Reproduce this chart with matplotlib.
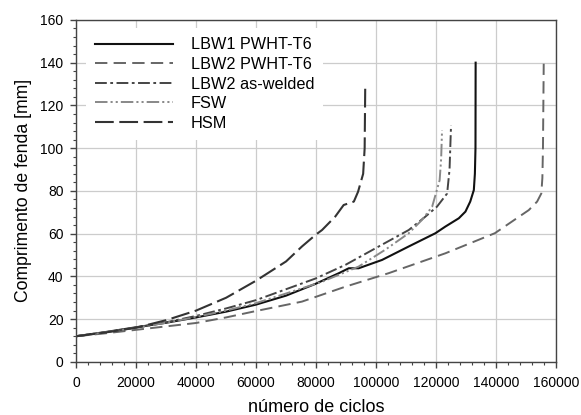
import matplotlib
matplotlib.use("Agg")
import matplotlib.pyplot as plt
from matplotlib.ticker import MultipleLocator

plt.rcParams['font.family'] = ['Liberation Sans', 'DejaVu Sans']
plt.rcParams['lines.scale_dashes'] = False

# ---- data ----
lbw1_x = [0, 10000, 20000, 30000, 40000, 50000, 60000, 70000, 79800, 87600,
          90900, 94200, 102000, 110900, 119800, 123100, 127600, 129800,
          131400, 132600, 132950, 133150, 133200]
lbw1_y = [12, 14, 16.2, 18.3, 20.8, 23.5, 26.8, 31, 36.5, 41.5,
          43.8, 43.8, 47.7, 54, 60.2, 63.3, 67.2, 70.3,
          75, 80.4, 88, 100, 140]

lbw2t6_x = [0, 10000, 20000, 30000, 40000, 50000, 60000, 75300, 89800, 104200,
            123100, 139600, 150900, 153700, 155100, 155450, 155650, 155900]
lbw2t6_y = [12, 13.4, 15.0, 16.6, 18.2, 20.8, 23.8, 28.2, 35.2, 41.5,
            50.8, 60.2, 71, 75, 78.8, 86, 100, 139.5]

lbw2aw_x = [0, 10000, 20000, 30000, 40000, 50000, 60000, 70000, 79800, 89800,
            100900, 110900, 116400, 120300, 123700, 124500, 125000]
lbw2aw_y = [12, 13.9, 16, 18.5, 21.5, 25, 28.9, 34, 39, 45.4,
            54, 61.7, 67.9, 72.6, 78.8, 90, 110.7]

fsw_x = [0, 10000, 20000, 30000, 40000, 50000, 60000, 70000, 82000, 94200,
         103100, 110900, 115300, 118700, 121200, 121700, 122000]
fsw_y = [12, 13.9, 16, 18.3, 21, 24, 27.5, 32, 37.5, 44.6,
         52.5, 60.2, 66.4, 72.6, 85, 95, 108.4]

hsm_x = [0, 10000, 20000, 30000, 40000, 50000, 60000, 70000, 75300, 79800,
         82000, 86400, 89200, 92600, 94000, 95700, 96200, 96400]
hsm_y = [12, 13.8, 16, 19.5, 24, 30, 38, 47, 54, 59.4,
         61.7, 68, 73.4, 75, 79.6, 88, 100, 130]

labels = ['LBW1 PWHT-T6', 'LBW2 PWHT-T6', 'LBW2 as-welded', 'FSW', 'HSM']

# ---- figure ----
fig = plt.figure(figsize=(5.81, 4.15), dpi=100)
ax = fig.add_axes([0.131, 0.128, 0.826, 0.824])

ax.plot(lbw1_x, lbw1_y, color='#111111', lw=1.5, label=labels[0])
ax.plot(lbw2t6_x, lbw2t6_y, color='#666666', lw=1.4, dashes=(8.9, 4.5),
        label=labels[1])
ax.plot(lbw2aw_x, lbw2aw_y, color='#444444', lw=1.4,
        dashes=(8.5, 2.5, 2, 2.5), label=labels[2])
ax.plot(fsw_x, fsw_y, color='#888888', lw=1.4,
        dashes=(9, 2.2, 1.5, 2.2, 1.5, 2.2), label=labels[3])
ax.plot(hsm_x, hsm_y, color='#333333', lw=1.5, dashes=(13.5, 4),
        label=labels[4])

ax.set_xlim(0, 160000)
ax.set_ylim(0, 160)
ax.xaxis.set_major_locator(MultipleLocator(20000))
ax.xaxis.set_minor_locator(MultipleLocator(4000))
ax.yaxis.set_major_locator(MultipleLocator(20))
ax.yaxis.set_minor_locator(MultipleLocator(4))

ax.grid(True, which='major', color='#cccccc', lw=0.9)
ax.set_axisbelow(True)
for s in ax.spines.values():
    s.set_color('#444444')
    s.set_linewidth(1.0)

ax.tick_params(which='major', direction='out', length=4, width=1,
               color='#444444', labelsize=10)
ax.tick_params(axis='x', which='major', pad=6)
ax.tick_params(axis='y', which='major', pad=5)
ax.tick_params(which='minor', direction='out', length=2.5, width=0.8,
               color='#444444')

ax.set_xlabel('número de ciclos', fontsize=13, labelpad=6.5)
ax.set_ylabel('Comprimento de fenda [mm]', fontsize=12.7, labelpad=6)

leg = ax.legend(loc='upper left', bbox_to_anchor=(0.02, 0.975),
                frameon=True, fancybox=False, fontsize=11.7,
                handlelength=4.8, handletextpad=1.1, labelspacing=0.28,
                borderpad=0.55, borderaxespad=0)
leg.get_frame().set_facecolor('white')
leg.get_frame().set_edgecolor('none')
leg.get_frame().set_alpha(1)

fig.savefig('out.png', dpi=100)
